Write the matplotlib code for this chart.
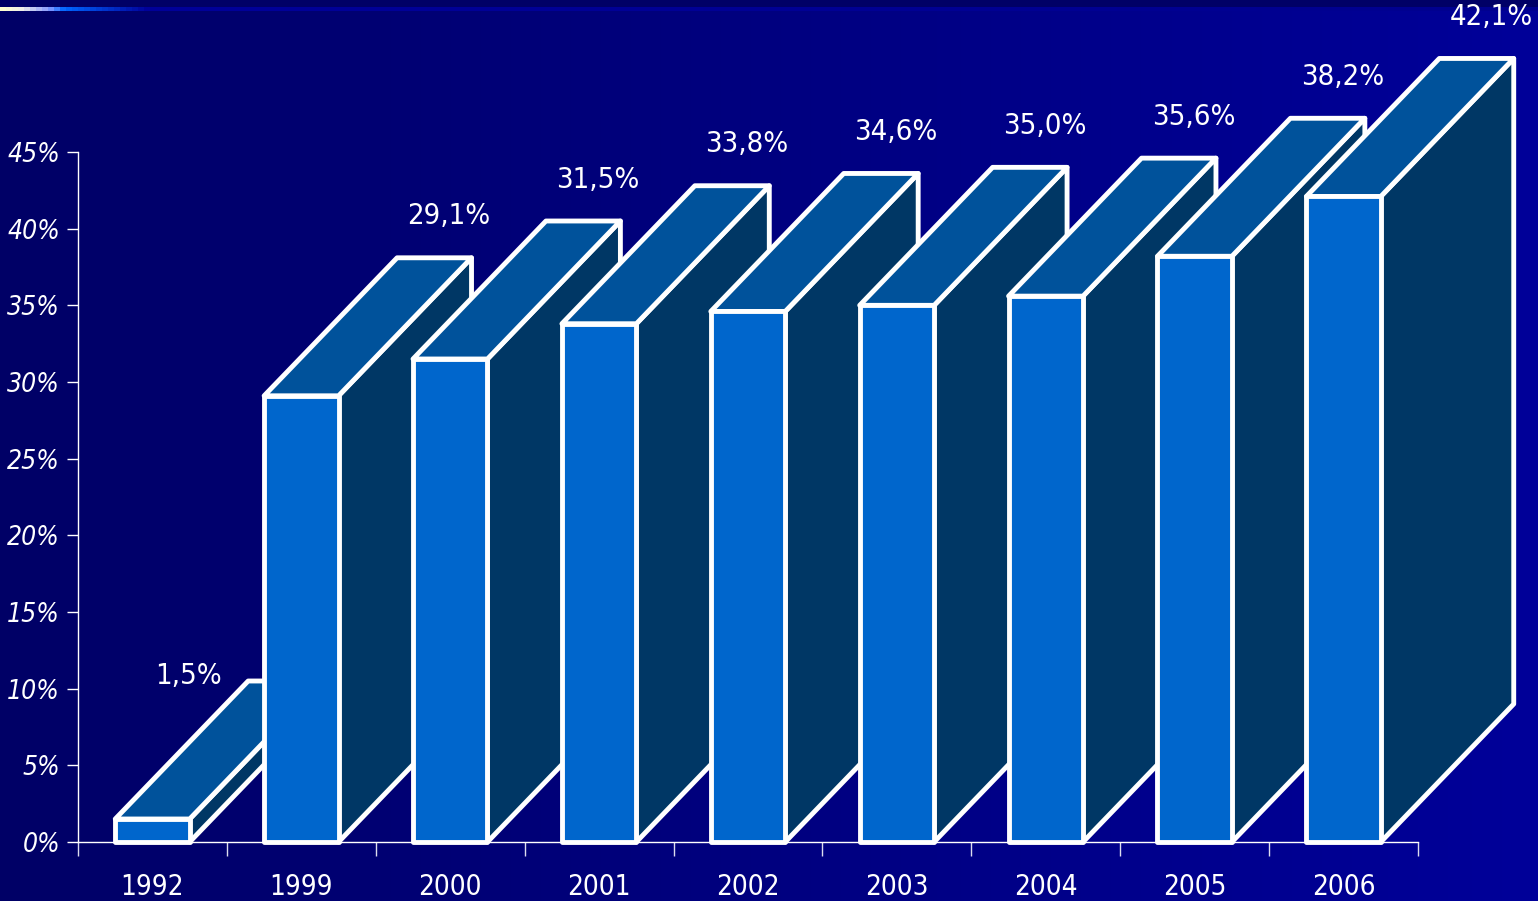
import numpy as np
import matplotlib.pyplot as plt
from matplotlib.colors import LinearSegmentedColormap
from matplotlib.patches import Polygon

years = ['1992', '1999', '2000', '2001', '2002', '2003', '2004', '2005', '2006']
values = [1.5, 29.1, 31.5, 33.8, 34.6, 35.0, 35.6, 38.2, 42.1]
value_labels = ['1,5%', '29,1%', '31,5%', '33,8%', '34,6%', '35,0%', '35,6%', '38,2%', '42,1%']
y_ticks = [0, 5, 10, 15, 20, 25, 30, 35, 40, 45]

FRONT = '#0066CC'
TOP = '#00529B'
SIDE = '#003765'
FONT = ['DejaVu Sans']

W, H = 1538, 901
fig = plt.figure(figsize=(W / 100, H / 100), dpi=100)

# background: horizontal gradient + thin top stripe
bg = fig.add_axes([0, 0, 1, 1])
grad = np.linspace(0, 1, 256).reshape(1, -1)
bg_cmap = LinearSegmentedColormap.from_list('bg', ['#000066', '#000099'])
bg.imshow(grad, cmap=bg_cmap, extent=[0, W, H, 0], aspect='auto')
bg.fill_between([0, W], 0, 7, color='#000066', lw=0)
line_cmap = LinearSegmentedColormap.from_list(
    'ln', [(0, '#FFFFD0'), (0.012, '#EEEEE8'), (0.03, '#8899FF'),
           (0.04, '#0066FF'), (0.095, '#000099'), (1, '#00008F')])
bg.imshow(grad, cmap=line_cmap, extent=[0, W, 11, 7], aspect='auto')
bg.set_xlim(0, W)
bg.set_ylim(H, 0)
bg.axis('off')

# main axes
ax = fig.add_axes([78 / W, 1 - 842 / H, 1340 / W, 690 / H])
ax.set_xlim(0, len(years))
ax.set_ylim(0, 45)
ax.patch.set_alpha(0)
for s in ['top', 'right']:
    ax.spines[s].set_visible(False)
for s in ['left', 'bottom']:
    ax.spines[s].set_color('white')
    ax.spines[s].set_linewidth(1)

ax.set_yticks(y_ticks)
ax.set_yticklabels([f'{t}%' for t in y_ticks], family=FONT, fontstretch='condensed',
                   fontstyle='italic', fontsize=19, color='white')
ax.tick_params(axis='y', length=8, width=1, color='white', pad=5)

ax.set_xticks(np.arange(len(years) + 1))
ax.set_xticklabels([])
ax.set_xticks(np.arange(len(years)) + 0.5, minor=True)
ax.set_xticklabels(years, minor=True, family=FONT, fontstretch='condensed',
                   fontsize=20, color='white')
ax.tick_params(axis='x', which='major', length=10, width=1, color='#DDDDEE')
ax.tick_params(axis='x', which='minor', length=0, pad=22)

# pseudo-3D bars
w = 0.5
dx = 0.893
dy = 9.0
for i, v in enumerate(values):
    x0 = i + 0.5 - w / 2
    x1 = x0 + w
    side = [(x1, 0), (x1 + dx, dy), (x1 + dx, v + dy), (x1, v)]
    top = [(x0, v), (x1, v), (x1 + dx, v + dy), (x0 + dx, v + dy)]
    front = [(x0, 0), (x1, 0), (x1, v), (x0, v)]
    for pts, c in ((side, SIDE), (top, TOP), (front, FRONT)):
        ax.add_patch(Polygon(pts, closed=True, fc=c, ec='white', lw=3.5,
                             joinstyle='round', clip_on=False, zorder=3 + i))

    # value label above the back edge of the top face
    lx = i + 0.5 + dx + 0.1
    ly = v + dy + 2.7
    if i + 1 < len(values) and values[i + 1] > v + dy + 3:
        lx = i + 0.5 + dx - 0.65
        ly = v + dy + 0.3
    ax.text(lx, ly, value_labels[i], ha='center', va='center', color='white',
            family=FONT, fontstretch='condensed', fontsize=21, zorder=20, clip_on=False)

fig.savefig('out.png', dpi=100)
